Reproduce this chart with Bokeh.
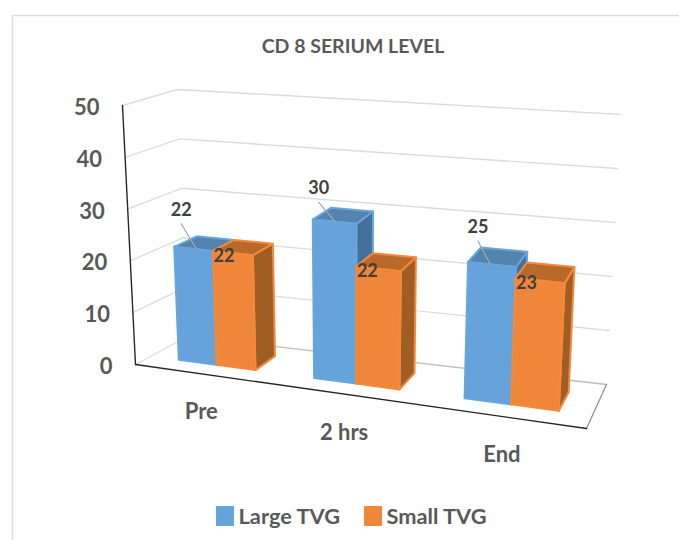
from bokeh.plotting import figure
from bokeh.embed import file_html
from bokeh.resources import INLINE
from bokeh.core.properties import value

categories = ["Pre", "2 hrs", "End"]
large_tvg = [22, 30, 25]
small_tvg = [22, 22, 23]
y_ticks = [0, 10, 20, 30, 40, 50]
title = "CD 8 SERIUM LEVEL"
series_names = ["Large TVG", "Small TVG"]

FONT = value("Lato")
TXT = "#595959"

# 3D box calibration, page pixels: corners of floor and ceiling
FLOOR = [(135, 364), (586, 428), (606, 384), (187, 336)]
CEIL = [(122, 105), (601, 145), (620, 114), (177, 89)]
VMAX = 50.0
WARP = 0.15
BAR_WARP = 0.155
C0, BW = 0.22, 0.29
D0, D1 = 0.30, 0.74
# offsets of the rear series' data labels and leader starts from the bar's top corner
LABEL_DX = [7, 6, 10]
LABEL_DY = [-38, -32, -36]
LEADER_DY = [-23, -17, -21]


def bil(q, u, d):
    ax = q[0][0] + (q[1][0] - q[0][0]) * u
    ay = q[0][1] + (q[1][1] - q[0][1]) * u
    bx = q[3][0] + (q[2][0] - q[3][0]) * u
    by = q[3][1] + (q[2][1] - q[3][1]) * u
    return ax + (bx - ax) * d, ay + (by - ay) * d


def proj(c, d, v, warp=WARP):
    u = c / 3.0
    u = u - warp * u * (1 - u)
    fx, fy = bil(FLOOR, u, d)
    tx, ty = bil(CEIL, u, d)
    t = v / VMAX
    return fx + (tx - fx) * t, fy + (ty - fy) * t


def bar(c, d, v):
    return proj(c, d, v, BAR_WARP)


p = figure(width=679, height=540, x_range=(0, 679), y_range=(540, 0),
           output_backend="svg", toolbar_location=None, min_border=0,
           outline_line_color=None)
p.axis.visible = False
p.grid.visible = False
p.background_fill_color = "white"
p.border_fill_color = "white"


def seg(a, b, color, w):
    p.line([a[0], b[0]], [a[1], b[1]], line_color=color, line_width=w, line_cap="round")


# chart frame
p.line([12, 12, 679], [540, 15, 15], line_color="#DEDEDE", line_width=1.5)

# walls
GRID = "#DCDCDC"
for v in y_ticks:
    seg(proj(0, 0, v), proj(0, 1, v), GRID, 1.4)
    seg(proj(0, 1, v), proj(3, 1, v), GRID if v else "#BFBFBF", 1.4)
seg(proj(3, 0, 0), proj(3, 1, 0), "#8C8C8C", 1.2)
seg(proj(0, 0, 0), proj(0, 0, VMAX), "#262626", 1.4)
seg(proj(0, 0, 0), proj(3, 0, 0), "#262626", 1.4)

# bars
STYLES = [
    dict(front="#67A3DB", side="#44719A", top="#5284AE", edge="#66A5DD"),
    dict(front="#F0863A", side="#A05E25", top="#B96A2A", edge="#F5893A"),
]
xs, ys, fills, edges = [], [], [], []


def add(face, fill, edge):
    xs.append([f[0] for f in face])
    ys.append([f[1] for f in face])
    fills.append(fill)
    edges.append(edge)


for i in range(3):
    for s, vals in enumerate((large_tvg, small_tvg)):
        a = i + C0 + s * BW
        b = a + BW
        v = vals[i]
        st = STYLES[s]
        add([bar(b, D0, 0), bar(b, D1, 0), bar(b, D1, v), bar(b, D0, v)], st["side"], st["edge"])
        add([bar(a, D0, v), bar(b, D0, v), bar(b, D1, v), bar(a, D1, v)], st["top"], st["edge"])
        add([bar(a, D0, 0), bar(b, D0, 0), bar(b, D0, v), bar(a, D0, v)], st["front"], st["edge"])
p.patches(xs, ys, fill_color=fills, line_color=edges, line_width=2, line_join="round")


def text(x, y, s, size, color=TXT, bold=True, align="center"):
    p.text([x], [y], text=[s], text_font=FONT, text_font_size=f"{size}px",
           text_font_style="bold" if bold else "normal", text_color=color,
           text_align=align, text_baseline="middle")


# data labels with leader lines for the rear series
for i in range(3):
    fx, fy = bar(i + C0, D0, large_tvg[i])
    seg((fx + LABEL_DX[i], fy + LEADER_DY[i]), (fx + 22, fy + 2), "#A6A6A6", 1.2)
    text(fx + LABEL_DX[i], fy + LABEL_DY[i], str(large_tvg[i]), 18, "#404040", True)
    gx, gy = bar(i + C0 + BW, D0, small_tvg[i])
    text(gx + 11, gy + 4, str(small_tvg[i]), 18, "#404040", True)

# axis tick labels and category labels
for v in y_ticks:
    x, y = proj(0, 0, v)
    text(x - 23, y + 1, str(v), 22, align="right")
for i, c in enumerate(categories):
    x, y = proj(i + 0.5, 0, 0)
    text(x, y + 37, c, 22)

text(352.5, 45, title, 19.5)

# legend
LEG = [(216, 238), (364, 386)]
for (sx, tx), name, st in zip(LEG, series_names, STYLES):
    p.quad(left=[sx], right=[sx + 17], top=[506], bottom=[525],
           fill_color=st["front"], line_color=st["edge"], line_width=1)
    text(tx, 515, name, 21.8, align="left")

open("out.html", "w").write(file_html(p, INLINE))
